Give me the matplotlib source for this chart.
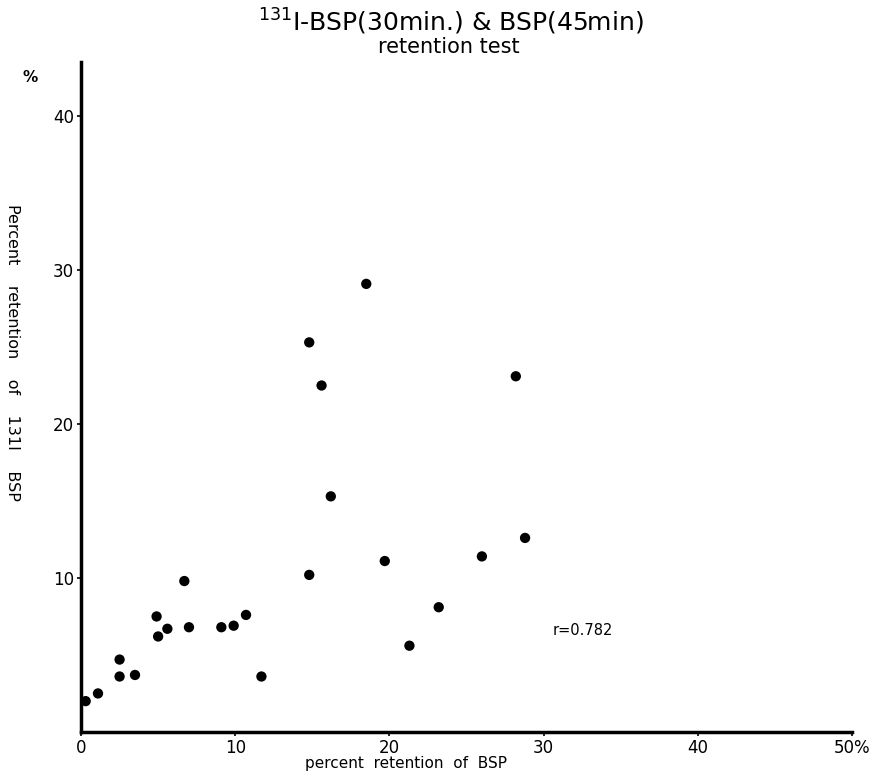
import matplotlib.pyplot as plt

# percent retention of BSP (x) vs 131I-BSP (y)
bsp = [0.3, 1.1, 2.5, 2.5, 3.5, 4.9, 5.0, 5.6, 6.7, 7.0, 9.1, 9.9, 10.7, 11.7,
       14.8, 14.8, 15.6, 16.2, 18.5, 19.7, 21.3, 23.2, 26.0, 28.2, 28.8]
i131_bsp = [2.0, 2.5, 4.7, 3.6, 3.7, 7.5, 6.2, 6.7, 9.8, 6.8, 6.8, 6.9, 7.6, 3.6,
            25.3, 10.2, 22.5, 15.3, 29.1, 11.1, 5.6, 8.1, 11.4, 23.1, 12.6]

x_ticks = [0, 10, 20, 30, 40, 50]
x_tick_labels = ["0", "10", "20", "30", "40", "50%"]
y_ticks = [10, 20, 30, 40]
y_tick_labels = ["10", "20", "30", "40"]
r_text = "r=0.782"


def main():
    fig = plt.figure(figsize=(8.78, 7.77), dpi=100)
    ax = fig.add_axes([0.0923, 0.058, 0.878, 0.862])

    ax.scatter(bsp, i131_bsp, s=55, color="black", edgecolors="none", zorder=3)

    ax.set_xlim(0, 50)
    ax.set_ylim(0, 43.5)
    ax.set_xticks(x_ticks)
    ax.set_xticklabels(x_tick_labels)
    ax.set_yticks(y_ticks)
    ax.set_yticklabels(y_tick_labels)
    ax.tick_params(labelsize=12, length=3, width=1.2, pad=2)

    for side in ("top", "right"):
        ax.spines[side].set_visible(False)
    for side in ("left", "bottom"):
        ax.spines[side].set_linewidth(2.5)

    ax.text(30.6, 6.3, r_text, fontsize=10.5)

    fig.text(0.513, 0.972, r"$^{131}$I-BSP(30min.) & BSP(45min)",
             ha="center", va="center", fontsize=18)
    fig.text(0.511, 0.94, "retention test", ha="center", va="center", fontsize=15)
    fig.text(0.034, 0.9, "%", ha="center", va="center", fontsize=11, weight="bold")

    fig.text(0.462, 0.008, "percent  retention  of  BSP", ha="center",
             va="bottom", fontsize=11)
    fig.text(0.014, 0.547, "Percent    retention    of    131I    BSP", ha="center",
             va="center", rotation=270, fontsize=11.5)

    fig.savefig("out.png", dpi=100)


if __name__ == "__main__":
    main()
